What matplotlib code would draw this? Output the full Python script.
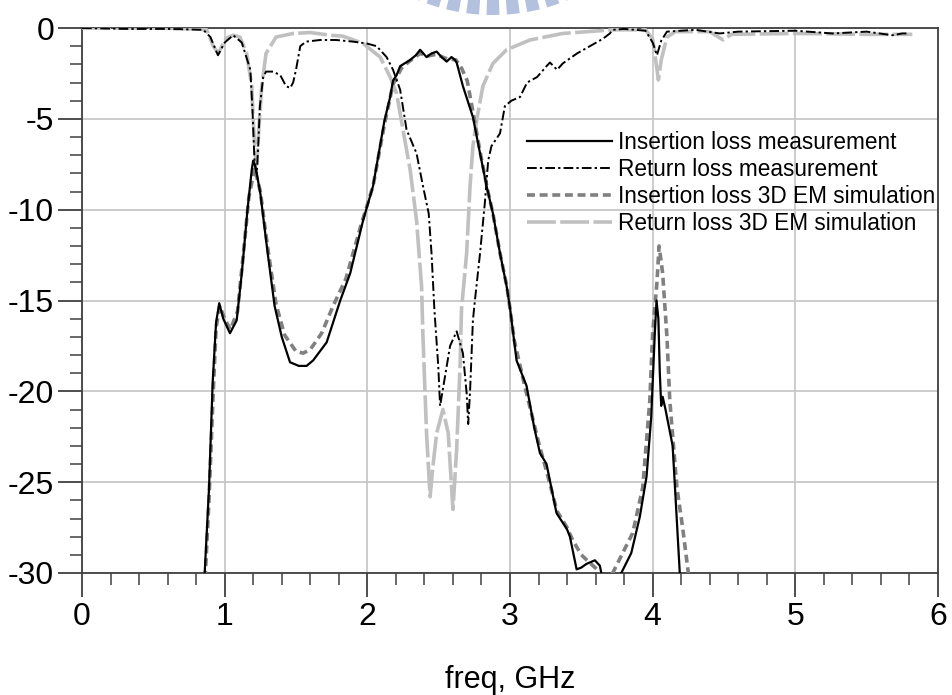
import numpy as np
import matplotlib
matplotlib.use("Agg")
import matplotlib.pyplot as plt
from matplotlib.patches import Wedge
from matplotlib.ticker import MultipleLocator

plt.rcParams['font.family'] = ['Liberation Sans', 'DejaVu Sans']

# ---- measured / simulated S-parameters (freq in GHz, magnitude in dB) ----
il_meas_f = [0.85, 0.86, 0.89, 0.916, 0.94, 0.962, 0.99, 1.037, 1.084, 1.12, 1.16, 1.19, 1.20, 1.215,
             1.25, 1.30, 1.35, 1.40, 1.458, 1.52, 1.574, 1.62, 1.715, 1.81, 1.88, 1.97, 2.04, 2.12,
             2.16, 2.18, 2.205, 2.23, 2.30, 2.34, 2.37, 2.415, 2.45, 2.486, 2.52, 2.556, 2.59, 2.614,
             2.626, 2.67, 2.74, 2.79, 2.836, 2.88, 2.93, 2.976, 3.0, 3.046, 3.116, 3.17, 3.21, 3.256,
             3.326, 3.40, 3.42, 3.467, 3.50, 3.536, 3.595, 3.63, 3.64, 3.70, 3.78, 3.85, 3.91, 3.957,
             3.99, 4.015, 4.027, 4.04, 4.05, 4.06, 4.07, 4.09, 4.14, 4.19, 4.20]
il_meas_db = [-31, -30, -25.4, -19.5, -16.2, -15.15, -16.0, -16.8, -16.1, -13.5, -10.0, -7.8, -7.3, -7.6,
              -9.1, -12.3, -15.3, -17.0, -18.4, -18.6, -18.6, -18.3, -17.3, -15.0, -13.5, -10.6, -8.7, -5.1,
              -3.8, -2.9, -2.6, -2.1, -1.76, -1.5, -1.2, -1.6, -1.4, -1.3, -1.6, -1.85, -1.6, -1.76,
              -1.9, -3.2, -4.9, -6.9, -8.7, -10.2, -12.4, -14.2, -15.4, -18.3, -19.7, -22.0, -23.4, -24.0,
              -26.7, -27.6, -28.0, -29.8, -29.7, -29.5, -29.3, -29.6, -30.0, -31.0, -30.0, -28.9, -26.9, -24.7,
              -21.4, -16.8, -15.0, -16.0, -19.0, -20.8, -20.3, -21.0, -23.0, -30.0, -31.0]

rl_meas_f = [0.0, 0.3, 0.6, 0.85, 0.90, 0.953, 1.0, 1.06, 1.12, 1.18, 1.195, 1.21, 1.225, 1.235, 1.247,
             1.27, 1.29, 1.34, 1.39, 1.43, 1.46, 1.48, 1.50, 1.53, 1.57, 1.67, 1.78, 1.90, 1.995, 2.065,
             2.135, 2.18, 2.23, 2.275, 2.345, 2.39, 2.43, 2.45, 2.47, 2.497, 2.51, 2.544, 2.58, 2.626,
             2.67, 2.696, 2.707, 2.72, 2.74, 2.754, 2.79, 2.824, 2.847, 2.87, 2.93, 2.964, 3.01, 3.07,
             3.12, 3.19, 3.256, 3.28, 3.33, 3.37, 3.47, 3.56, 3.65, 3.70, 3.72, 3.8, 3.95, 4.0, 4.03,
             4.06, 4.1, 4.3, 4.47, 4.6, 5.0, 5.26, 5.5, 5.68, 5.75, 5.8]
rl_meas_db = [0.0, -0.05, -0.05, -0.1, -0.5, -1.5, -0.8, -0.4, -0.8, -2.3, -4.5, -7.5, -8.0, -6.5, -4.3,
              -2.7, -2.4, -2.4, -2.6, -3.2, -3.3, -3.0, -2.3, -1.0, -0.75, -0.66, -0.66, -0.75, -0.85, -1.0,
              -1.6, -2.3, -3.4, -5.6, -6.9, -8.7, -10.2, -12.4, -15.5, -18.6, -20.8, -19.2, -17.5, -16.7,
              -17.9, -20.1, -21.8, -20.0, -16.1, -15.0, -12.4, -9.6, -7.3, -6.5, -5.8, -4.3, -4.0, -3.8,
              -3.0, -2.7, -2.1, -1.9, -2.3, -1.95, -1.4, -1.0, -0.6, -0.3, -0.1, -0.05, -0.15, -0.8, -1.5,
              -0.7, -0.2, -0.1, -0.3, -0.2, -0.15, -0.3, -0.2, -0.4, -0.3, -0.3]

il_sim_f = [0.85, 0.865, 0.89, 0.92, 0.94, 0.965, 1.00, 1.04, 1.09, 1.13, 1.17, 1.21, 1.25, 1.30, 1.36,
            1.42, 1.50, 1.55, 1.60, 1.68, 1.76, 1.85, 1.95, 2.04, 2.12, 2.18, 2.24, 2.30, 2.37, 2.42,
            2.48, 2.56, 2.62, 2.66, 2.70, 2.74, 2.79, 2.84, 2.88, 2.93, 2.98, 3.03, 3.10, 3.20, 3.27,
            3.33, 3.40, 3.44, 3.50, 3.54, 3.61, 3.62, 3.67, 3.72, 3.79, 3.86, 3.93, 3.98, 4.0, 4.03,
            4.045, 4.07, 4.10, 4.12, 4.17, 4.21, 4.25, 4.26]
il_sim_db = [-31, -30, -26, -20, -16.5, -15.3, -16.0, -16.6, -15.6, -12.5, -9.3, -7.7, -9.0, -12.0, -15.2,
             -16.9, -17.8, -17.9, -17.7, -16.8, -15.3, -13.8, -11.0, -8.7, -5.3, -3.1, -2.2, -1.8, -1.4, -1.55,
             -1.45, -1.7, -1.75, -2.2, -2.9, -4.6, -6.8, -8.8, -10.2, -12.4, -14.3, -17.2, -19.6, -22.8, -24.8,
             -26.6, -27.5, -28.2, -29.0, -29.3, -29.8, -30.0, -31.0, -30.0, -28.9, -27.8, -25.3, -20.5, -16.8, -14.0,
             -12.0, -13.5, -17.0, -20.5, -25.3, -27.5, -30.0, -31.0]

rl_sim_f = [0.0, 0.5, 0.8, 0.874, 0.92, 0.955, 0.98, 1.01, 1.06, 1.107, 1.154, 1.19, 1.20, 1.215, 1.225,
            1.24, 1.26, 1.29, 1.36, 1.48, 1.6, 1.74, 1.83, 1.97, 2.09, 2.16, 2.205, 2.25, 2.30, 2.345,
            2.38, 2.39, 2.415, 2.44, 2.46, 2.486, 2.53, 2.567, 2.60, 2.626, 2.65, 2.66, 2.696, 2.72,
            2.74, 2.766, 2.81, 2.88, 2.976, 3.14, 3.37, 3.72, 3.95, 4.0, 4.015, 4.04, 4.06, 4.1, 4.16,
            4.4, 4.494, 4.55, 5.0, 5.5, 5.82]
rl_sim_db = [0.0, 0.0, -0.05, -0.1, -1.0, -1.4, -1.0, -0.56, -0.4, -0.5, -1.4, -3.2, -5.1, -7.0, -7.5,
             -5.5, -3.2, -1.4, -0.5, -0.3, -0.25, -0.4, -0.45, -0.85, -1.6, -2.7, -3.6, -5.6, -7.8, -10.6,
             -14.2, -17.0, -22.3, -25.8, -24.1, -22.3, -21.0, -22.3, -26.5, -23.2, -18.6, -15.5, -12.4, -8.7,
             -6.5, -5.1, -3.2, -1.95, -1.2, -0.66, -0.3, -0.1, -0.1, -0.6, -1.4, -2.86, -1.76, -0.5, -0.2,
             -0.2, -0.66, -0.35, -0.3, -0.35, -0.35]

labels = ["Insertion loss measurement", "Return loss measurement",
          "Insertion loss 3D EM simulation", "Return loss 3D EM simulation"]

W, H = 953, 695
fig = plt.figure(figsize=(W / 100, H / 100), dpi=100)
fig.patch.set_facecolor("white")

# faint logo stripes along the top edge
bg = fig.add_axes([0, 0, 1, 1], zorder=-5)
bg.set_xlim(0, W)
bg.set_ylim(H, 0)
bg.axis("off")
cx, cy, R = 493, -180, 195
for k in range(-5, 6):
    a = 90 + k * 6.0
    bg.add_patch(Wedge((cx, cy), R, a - 1.9, a + 1.9, width=40,
                       facecolor="#b3c1df", edgecolor="none"))

ax = fig.add_axes([82 / W, 1 - 573 / H, (938 - 82) / W, (573 - 28) / H])

l1, = ax.plot(il_meas_f, il_meas_db, color="black", lw=1.6, zorder=6, label=labels[0])
l2, = ax.plot(rl_meas_f, rl_meas_db, color="black", lw=1.4, zorder=5,
              dashes=[5, 1.6, 1.2, 1.6], label=labels[1])
l3, = ax.plot(il_sim_f, il_sim_db, color="#808080", lw=2.6, zorder=4,
              dashes=[2.2, 1.3], label=labels[2])
l4, = ax.plot(rl_sim_f, rl_sim_db, color="#c0c0c0", lw=2.6, zorder=3,
              dashes=[8, 1.2], label=labels[3])

ax.set_xlim(0, 6)
ax.set_ylim(-30, 0)
ax.xaxis.set_major_locator(MultipleLocator(1))
ax.xaxis.set_minor_locator(MultipleLocator(0.2))
ax.yaxis.set_major_locator(MultipleLocator(5))
ax.yaxis.set_minor_locator(MultipleLocator(1))
ax.grid(True, which="major", color="#c8c8c8", lw=1.3, zorder=0)
ax.set_axisbelow(True)

spine_c = "#404040"
for s in ax.spines.values():
    s.set_color(spine_c)
    s.set_linewidth(1.3)
ax.tick_params(which="major", direction="out", length=17, width=1.3, color=spine_c,
               labelsize=23, pad=3)
ax.tick_params(which="minor", direction="out", length=8.5, width=1.1, color=spine_c)
ax.tick_params(axis="x", which="major", pad=4)
ax.set_yticks([0, -5, -10, -15, -20, -25, -30])
ax.set_yticklabels(["0", "-5", "-10", "-15", "-20", "-25", "-30"])

fig.text((82 + 938) / 2 / W, (H - 688) / H, "freq, GHz", ha="center", va="baseline", fontsize=22)

leg = ax.legend(handles=[l1, l2, l3, l4], loc="upper left",
                bbox_to_anchor=(527 / W, 1 - 131 / H), bbox_transform=fig.transFigure,
                frameon=False, fontsize=16.3, handlelength=3.75, handletextpad=0.27,
                labelspacing=0.17, borderpad=0, borderaxespad=0)

fig.savefig("out.png", dpi=100)
